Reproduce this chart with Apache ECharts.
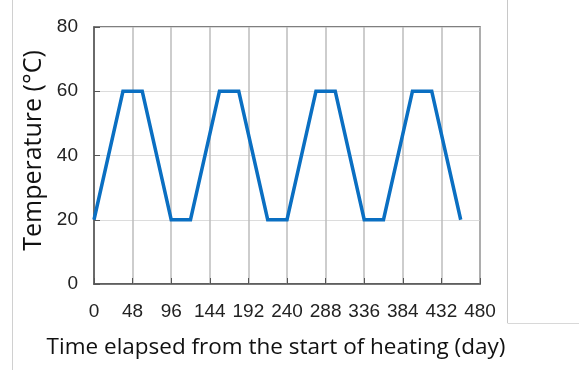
<!DOCTYPE html>
<html>
<head>
<meta charset="utf-8">
<script src="https://cdn.jsdelivr.net/npm/echarts@6/dist/echarts.min.js"></script>
<style>
  html, body { margin: 0; padding: 0; background: #fff; }
  #chart { width: 579px; height: 370px; }
</style>
</head>
<body>
<div id="chart"></div>
<script>
// Heating cycle: time (day) and temperature (°C)
const days = [0, 36, 60, 96, 120, 156, 180, 216, 240, 276, 300, 336, 360, 396, 420, 456];
const temps = [20, 60, 60, 20, 20, 60, 60, 20, 20, 60, 60, 20, 20, 60, 60, 20];
const xTicks = [0, 48, 96, 144, 192, 240, 288, 336, 384, 432, 480];
const yTicks = [0, 20, 40, 60, 80];

const chart = echarts.init(document.getElementById('chart'), null, { renderer: 'canvas' });

chart.setOption({
  backgroundColor: '#fff',
  animation: false,
  grid: { left: 94, top: 27, right: 99, bottom: 86, show: true, borderColor: '#555', borderWidth: 1.5 },
  xAxis: {
    type: 'value',
    min: xTicks[0],
    max: xTicks[xTicks.length - 1],
    interval: 48,
    axisLine: { show: true, lineStyle: { color: '#555', width: 1.5 } },
    axisTick: { show: true, inside: true, length: 6, lineStyle: { color: '#555' } },
    splitLine: { show: true, lineStyle: { color: '#bdbdbd', width: 1.5 } },
    axisLabel: { margin: 18, color: '#222', fontFamily: '"Liberation Sans Narrow", "Liberation Sans", sans-serif', fontSize: 19 },
    name: 'Time elapsed from the start of heating (day)',
    nameLocation: 'middle',
    nameGap: 52,
    nameTextStyle: { color: '#111', fontFamily: '"Open Sans", sans-serif', fontSize: 22.5, padding: [0, 22, 0, 0] }
  },
  yAxis: {
    type: 'value',
    min: yTicks[0],
    max: yTicks[yTicks.length - 1],
    interval: 20,
    axisLine: { show: true, lineStyle: { color: '#555', width: 1.5 } },
    axisTick: { show: true, inside: true, length: 6, lineStyle: { color: '#555' } },
    splitLine: { show: true, lineStyle: { color: '#dcdcdc', width: 1 } },
    axisLabel: { margin: 16, color: '#222', fontFamily: '"Liberation Sans", Arial, sans-serif', fontSize: 19 },
    name: 'Temperature (°C)',
    nameLocation: 'middle',
    nameGap: 48,
    nameTextStyle: { color: '#111', fontFamily: '"Open Sans", sans-serif', fontSize: 25, padding: [0, 0, 0, 10] }
  },
  graphic: [
    { type: 'line', shape: { x1: 12.5, y1: 0, x2: 12.5, y2: 370 }, style: { stroke: '#d0d0d0', lineWidth: 1 } },
    { type: 'line', shape: { x1: 507.5, y1: 0, x2: 507.5, y2: 323 }, style: { stroke: '#c8c8c8', lineWidth: 1 } },
    { type: 'line', shape: { x1: 507.5, y1: 323.5, x2: 579, y2: 323.5 }, style: { stroke: '#d8d8d8', lineWidth: 1 } }
  ],
  series: [{
    type: 'line',
    data: days.map((d, i) => [d, temps[i]]),
    showSymbol: false,
    symbol: 'none',
    lineStyle: { color: '#0a6fc2', width: 3.5, join: 'miter' }
  }]
});
</script>
</body>
</html>
